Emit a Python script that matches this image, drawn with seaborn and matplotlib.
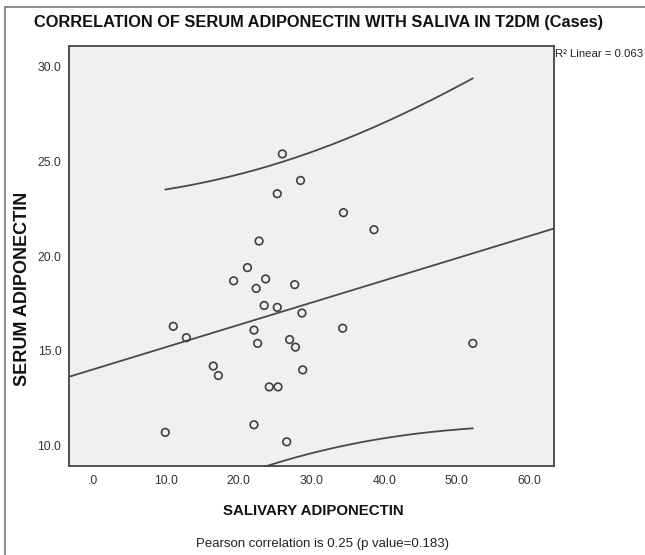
import numpy as np
import pandas as pd
import matplotlib
matplotlib.use("Agg")
import matplotlib.pyplot as plt
import seaborn as sns
from matplotlib.lines import Line2D

# --------------------------------------------------------------------------
# Data (T2DM cases, n = 30)
# --------------------------------------------------------------------------
salivary = [26.0, 28.5, 25.3, 34.4, 38.6, 22.8, 21.2, 19.3, 23.7, 22.4,
            27.7, 23.5, 25.3, 28.7, 11.0, 12.8, 22.1, 22.6, 27.0, 27.8,
            34.3, 16.5, 17.2, 28.8, 24.2, 25.4, 9.9, 22.1, 26.6, 52.2]
serum = [25.4, 24.0, 23.3, 22.3, 21.4, 20.8, 19.4, 18.7, 18.8, 18.3,
         18.5, 17.4, 17.3, 17.0, 16.3, 15.7, 16.1, 15.4, 15.6, 15.2,
         16.2, 14.2, 13.7, 14.0, 13.1, 13.1, 10.7, 11.1, 10.2, 15.4]

x_ticks = [0, 10, 20, 30, 40, 50, 60]
y_ticks = [10, 15, 20, 25, 30]

title = "CORRELATION OF SERUM ADIPONECTIN WITH SALIVA IN T2DM (Cases)"
x_label = "SALIVARY ADIPONECTIN"
y_label = "SERUM ADIPONECTIN"
footer = "Pearson correlation is 0.25 (p value=0.183)"
r2_text = "R\u00b2 Linear = 0.063"

df = pd.DataFrame({"salivary": salivary, "serum": serum})

# --------------------------------------------------------------------------
# Linear fit + 95% prediction interval for individuals (SPSS style)
# --------------------------------------------------------------------------
x = df["salivary"].to_numpy()
y = df["serum"].to_numpy()
n = len(x)
slope, intercept = np.polyfit(x, y, 1)
resid = y - (intercept + slope * x)
s = np.sqrt(np.sum(resid ** 2) / (n - 2))
t_crit = 2.0484  # t(0.975, df=28)
sxx = np.sum((x - x.mean()) ** 2)

xlim = (-3.34, 63.4)
ylim = (8.95, 31.1)

x_band = np.linspace(x.min(), x.max(), 200)
y_band = intercept + slope * x_band
half = t_crit * s * np.sqrt(1 + 1 / n + (x_band - x.mean()) ** 2 / sxx)
x_fit = np.array(xlim)
y_fit = intercept + slope * x_fit

# --------------------------------------------------------------------------
# Plot
# --------------------------------------------------------------------------
sns.set_style("white")
plt.rcParams["font.family"] = ["Liberation Sans", "DejaVu Sans"]

fig = plt.figure(figsize=(6.45, 5.55), dpi=100)
ax = fig.add_axes([69 / 645, 1 - 465.5 / 555, (554.3 - 69) / 645, (465.5 - 46) / 555])
ax.set_facecolor("#f0f0f0")

line_col = "#4a4a4a"
ax.plot(x_fit, y_fit, color=line_col, lw=1.3)
ax.plot(x_band, y_band + half, color=line_col, lw=1.3)
ax.plot(x_band, y_band - half, color=line_col, lw=1.3)

sns.scatterplot(data=df, x="salivary", y="serum", ax=ax, marker="o", s=30,
                facecolor="none", edgecolor="#404040", linewidth=1.2, zorder=3)

ax.set_xlim(*xlim)
ax.set_ylim(*ylim)
ax.set_xticks(x_ticks)
ax.set_yticks(y_ticks)
fmt = lambda v: ".0" if v == 0 else f"{v:.1f}"
ax.set_xticklabels([fmt(v) for v in x_ticks])
ax.set_yticklabels([fmt(v) for v in y_ticks])
ax.set_xlabel("")
ax.set_ylabel("")
ax.tick_params(axis="both", direction="out", length=5, width=1.3, color="#333333",
               labelsize=8.7, labelcolor="#333333")
ax.tick_params(axis="y", pad=0.5)
ax.tick_params(axis="x", pad=2)
for sp in ax.spines.values():
    sp.set_color("#444444")
    sp.set_linewidth(1.3)

# texts
fig.text(34 / 645, 1 - 23 / 555, title, fontsize=11.8, fontweight="bold",
         ha="left", va="center", color="#111111")
fig.text(313 / 645, 1 - 511 / 555, x_label, fontsize=10.8, fontweight="bold",
         ha="center", va="center", color="#111111")
fig.text(23 / 645, 1 - 289 / 555, y_label, fontsize=13, fontweight="bold",
         ha="center", va="center", rotation=90, color="#111111")
fig.text(323 / 645, 1 - 544 / 555, footer, fontsize=9.5, ha="center", va="center",
         color="#222222")
fig.text(555 / 645, 1 - 54 / 555, r2_text, fontsize=8.2, ha="left", va="center",
         color="#222222")

# outer frame (left and top edges visible in the reference)
fig.add_artist(Line2D([5 / 645, 5 / 645], [0, 1 - 7 / 555], transform=fig.transFigure,
                      color="#777777", lw=1.2))
fig.add_artist(Line2D([5 / 645, 1], [1 - 7 / 555, 1 - 7 / 555], transform=fig.transFigure,
                      color="#777777", lw=1.2))

fig.savefig("out.png", dpi=100, facecolor="white")
